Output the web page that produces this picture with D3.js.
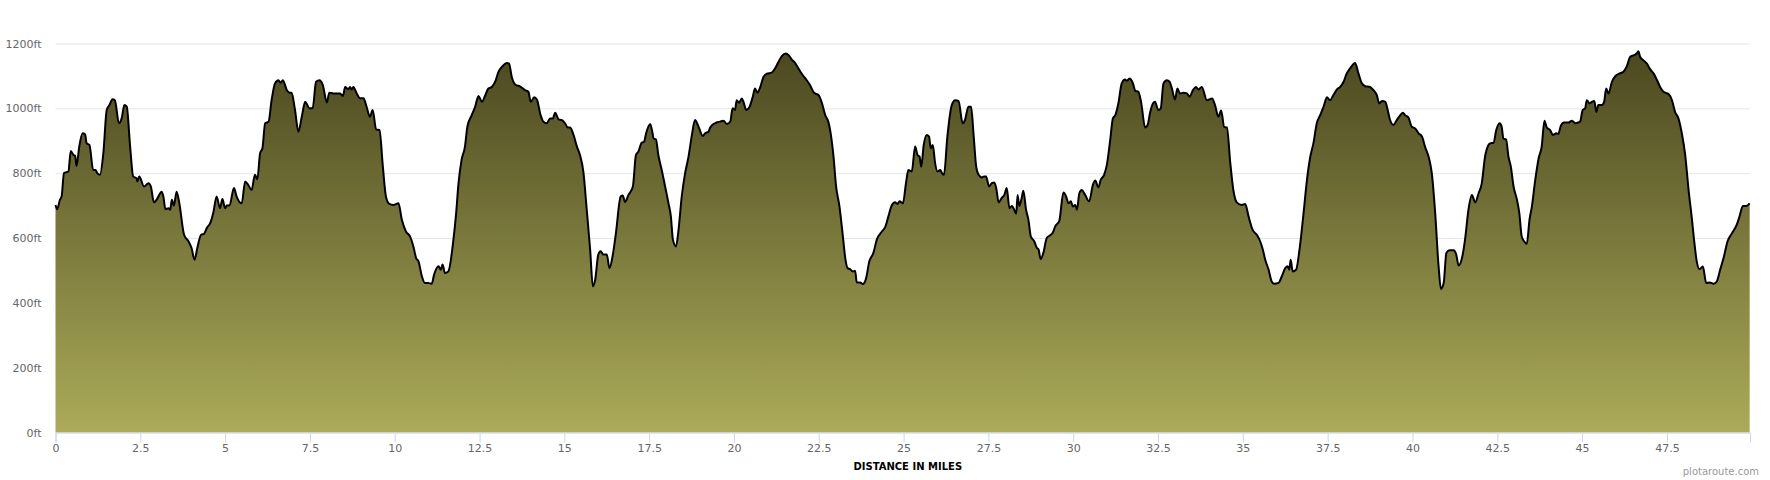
<!DOCTYPE html>
<html>
<head>
<meta charset="utf-8">
<script src="https://cdn.jsdelivr.net/npm/d3@7"></script>
<style>
  body { margin: 0; background: #fff; }
  svg { display: block; font-family: "DejaVu Sans", Verdana, sans-serif; }
</style>
</head>
<body>
<svg width="1770" height="480"></svg>
<script>
// elevation profile (miles / feet)
const distanceMiles = [
  0.0,0.05,0.13,0.18,0.25,0.38,0.45,0.53,0.58,0.62,0.70,0.80,0.87,0.92,1.00,1.11,1.18,1.23,1.31,1.41,1.51,1.59,1.68,1.75,1.87,1.95,2.03,2.10,2.20,2.29,2.39,2.41,2.47,2.61,2.74,2.81,2.90,2.98,3.13,3.18,3.24,3.33,3.38,3.43,3.49,3.57,3.65,3.79,3.92,4.01,4.10,4.18,4.29,4.38,4.46,4.57,4.65,4.75,4.85,4.92,5.00,5.05,5.13,5.26,5.34,5.49,5.59,5.68,5.78,5.88,5.95,6.03,6.10,6.18,6.28,6.37,6.47,6.57,6.64,6.70,6.82,6.91,6.96,7.06,7.16,7.26,7.36,7.40,7.48,7.58,7.68,7.78,7.88,8.00,8.07,
  8.19,8.39,8.47,8.54,8.63,8.68,8.73,8.78,8.88,8.98,9.08,9.17,9.27,9.35,9.45,9.55,9.65,9.74,9.84,9.96,10.11,10.21,10.33,10.45,10.55,10.63,10.70,10.80,10.89,10.99,11.09,11.16,11.29,11.36,11.41,11.48,11.58,11.73,11.81,11.88,11.97,12.07,12.14,12.27,12.37,12.47,12.57,12.66,12.76,12.86,12.96,13.06,13.18,13.30,13.37,13.45,13.57,13.69,13.84,13.94,14.01,14.11,14.19,14.30,14.38,14.48,14.58,14.66,14.73,14.83,14.92,15.02,15.10,15.17,15.27,15.37,15.46,15.56,15.66,15.76,15.84,15.91,16.00,16.07,16.15,16.25,16.33,16.43,16.52,16.66,
  16.72,16.79,16.89,17.02,17.11,17.18,17.28,17.35,17.41,17.53,17.60,17.63,17.70,17.77,17.87,17.97,18.07,18.14,18.20,18.29,18.36,18.46,18.56,18.66,18.76,18.85,18.95,19.08,19.15,19.25,19.30,19.44,19.59,19.69,19.79,19.89,19.96,20.03,20.08,20.15,20.23,20.28,20.36,20.46,20.55,20.62,20.69,20.77,20.87,20.97,21.11,21.21,21.31,21.41,21.53,21.61,21.70,21.80,21.90,22.03,22.13,22.24,22.36,22.49,22.59,22.69,22.78,22.85,22.93,23.01,23.11,23.21,23.28,23.35,23.42,23.50,23.57,23.62,23.72,23.80,23.89,23.99,24.11,24.21,24.36,24.46,24.55,24.65,24.75,24.82,24.88,24.98,25.07,25.14,
  25.24,25.34,25.41,25.47,25.52,25.59,25.68,25.75,25.80,25.86,25.93,26.00,26.08,26.13,26.19,26.29,26.42,26.52,26.62,26.74,26.81,26.91,26.99,27.06,27.14,27.21,27.31,27.37,27.43,27.52,27.60,27.67,27.73,27.80,27.89,27.97,28.04,28.12,28.19,28.24,28.32,28.36,28.41,28.48,28.53,28.61,28.68,28.75,28.85,28.93,28.98,29.04,29.12,29.22,29.30,29.40,29.47,29.59,29.71,29.79,29.86,29.93,29.99,30.06,30.11,30.18,30.25,30.35,30.47,30.58,30.65,30.74,30.81,30.91,30.99,31.09,31.17,31.24,31.33,31.43,31.53,31.58,31.66,31.76,31.83,31.92,32.00,32.12,32.19,32.27,32.35,32.41,32.51,32.58,32.66,32.76,32.84,32.91,33.00,33.07,33.15,33.25,33.35,33.43,33.53,33.62,33.69,33.79,
  33.94,34.09,34.18,34.28,34.36,34.45,34.53,34.63,34.72,34.82,34.97,35.07,35.17,35.29,35.41,35.51,35.59,35.66,35.76,35.85,35.92,36.05,36.15,36.25,36.32,36.37,36.41,36.47,36.57,36.67,36.79,36.89,36.98,37.08,37.18,37.28,37.38,37.48,37.57,37.67,37.77,37.87,37.97,38.06,38.16,38.31,38.41,38.51,38.61,38.75,38.85,38.95,39.02,39.10,39.20,39.27,39.34,39.44,39.54,39.62,39.72,39.78,39.88,39.98,40.08,40.18,40.28,40.37,40.50,40.57,40.67,40.77,40.84,40.92,41.00,41.09,41.21,41.29,41.36,41.46,41.55,41.65,41.75,41.85,41.95,42.04,42.14,42.24,
  42.29,42.39,42.47,42.57,42.63,42.68,42.76,42.83,42.90,42.98,43.08,43.15,43.22,43.29,43.37,43.45,43.52,43.62,43.72,43.81,43.89,43.96,44.06,44.14,44.24,44.30,44.37,44.47,44.60,44.70,44.80,44.94,45.02,45.09,45.14,45.22,45.29,45.36,45.42,45.48,45.58,45.65,45.71,45.78,45.88,45.98,46.10,46.22,46.32,46.42,46.53,46.61,46.66,46.71,46.81,46.91,47.01,47.11,47.20,47.30,47.40,47.55,47.65,47.74,47.84,47.94,48.04,48.14,48.24,48.30,48.38,48.46,48.56,48.66,48.76,48.88,48.97,49.07,49.17,49.29,49.42,49.56,49.64,49.74,49.84,49.94
];
const elevationFt = [
  702,689,718,728,800,805,868,856,853,822,882,923,920,892,887,810,810,800,795,861,995,1010,1028,1025,954,969,1010,1005,882,790,784,774,790,759,769,759,710,718,743,728,689,692,687,718,700,743,707,610,590,569,533,569,610,613,631,648,677,728,692,720,692,700,701,754,728,707,774,764,748,795,781,861,877,954,959,1025,1077,1087,1079,1087,1056,1048,1048,995,928,974,1020,1015,1000,1000,1082,1087,1072,1018,1048,
  1046,1046,1038,1066,1059,1066,1058,1066,1046,1031,1031,1005,974,995,935,933,820,728,705,702,707,656,620,605,574,538,528,482,461,461,459,487,513,502,518,492,497,595,677,769,841,882,943,979,1005,1038,1020,1038,1061,1066,1082,1113,1130,1140,1138,1097,1072,1068,1056,1051,1020,1034,1027,979,959,954,969,969,986,966,964,954,941,941,918,882,856,805,687,564,451,472,549,559,549,549,507,549,615,728,
  731,711,733,759,856,866,894,897,923,952,923,907,904,856,810,759,707,666,595,574,620,728,800,851,918,964,945,915,923,928,941,954,959,962,952,959,1000,995,1025,1017,1030,1020,995,1005,1034,1061,1048,1064,1097,1107,1110,1123,1143,1161,1169,1164,1151,1140,1123,1102,1089,1072,1048,1041,1017,979,959,923,856,759,697,605,538,507,504,497,499,463,463,458,474,528,554,595,620,634,666,700,710,705,713,707,769,810,
  805,882,856,851,820,884,918,913,877,887,830,805,810,800,795,913,1010,1025,1023,954,964,1005,1005,923,820,795,787,790,790,759,769,771,754,710,723,733,754,692,699,692,675,733,699,723,746,687,656,605,590,569,564,535,554,600,607,617,636,653,740,728,707,713,697,702,687,738,748,733,713,764,777,756,779,795,825,902,969,979,1015,1077,1089,1085,1092,1077,1054,1051,1020,941,948,989,1015,1020,995,1000,1077,1087,1082,1061,1027,1061,1046,1048,1046,1036,1056,1066,1058,1066,
  1025,1030,1010,974,993,943,941,831,748,710,702,705,666,625,610,590,564,533,502,466,459,461,482,507,513,502,533,497,502,564,677,779,846,892,954,979,1005,1034,1025,1041,1058,1066,1082,1107,1123,1140,1107,1077,1068,1066,1056,1041,1015,1023,1020,995,964,949,964,976,986,979,972,943,938,923,913,882,841,800,677,513,443,461,554,562,562,549,515,538,595,687,733,710,738,767,851,887,
  892,894,933,954,943,907,904,851,820,759,718,677,605,590,582,656,697,779,846,882,962,941,933,918,923,921,945,956,956,962,954,959,995,1000,1025,1015,1020,1023,989,1010,1010,1020,1061,1046,1082,1099,1107,1113,1130,1159,1164,1169,1176,1159,1148,1138,1120,1107,1089,1066,1051,1044,1025,989,969,923,856,748,656,595,528,504,512,461,463,459,466,502,538,590,615,641,666,699,699,707
];
const xTicks = [0, 2.5, 5, 7.5, 10, 12.5, 15, 17.5, 20, 22.5, 25, 27.5, 30, 32.5, 35, 37.5, 40, 42.5, 45, 47.5];
const yTicks = [0, 200, 400, 600, 800, 1000, 1200];

const points = distanceMiles.map((d, i) => ({ mi: d, ft: elevationFt[i] }));

const svg = d3.select('svg');
const plotLeft = 55.5, plotRight = 1750, plotTop = 43.5, plotBottom = 432.5;
const fontFam = '"DejaVu Sans", Verdana, sans-serif';

const x = d3.scaleLinear().domain([0, 49.95]).range([plotLeft, plotRight]);
const y = d3.scaleLinear().domain([0, 1200]).range([plotBottom, plotTop]);

// gradient fill
const grad = svg.append('defs').append('linearGradient')
  .attr('id', 'fillGrad')
  .attr('x1', 0).attr('y1', 0).attr('x2', 0).attr('y2', 1);
grad.append('stop').attr('offset', '0%').attr('stop-color', '#4b4820');
grad.append('stop').attr('offset', '100%').attr('stop-color', '#abab59');

// gridlines + y labels
const yAxis = svg.append('g')
  .attr('transform', `translate(${plotLeft},0)`)
  .call(d3.axisLeft(y).tickValues(yTicks).tickSize(-(plotRight - plotLeft)).tickPadding(14)
    .tickFormat(d => d + 'ft'))
  .attr('font-family', fontFam)
  .attr('font-size', 11);
yAxis.select('.domain').remove();
yAxis.selectAll('line').attr('stroke', '#e6e6e6');
yAxis.selectAll('text').attr('fill', '#666');

// area + line
const area = d3.area()
  .x(d => x(d.mi)).y0(y(0)).y1(d => y(d.ft))
  .curve(d3.curveMonotoneX);
const line = d3.line()
  .x(d => x(d.mi)).y(d => y(d.ft))
  .curve(d3.curveMonotoneX);

svg.append('path').datum(points)
  .attr('d', area)
  .attr('fill', 'url(#fillGrad)');
svg.append('path').datum(points)
  .attr('d', line)
  .attr('fill', 'none')
  .attr('stroke', '#000')
  .attr('stroke-width', 2)
  .attr('stroke-linejoin', 'round');

// x axis
const xAxis = svg.append('g')
  .attr('transform', `translate(0,${plotBottom})`)
  .call(d3.axisBottom(x).tickValues(xTicks).tickSize(10).tickPadding(2)
    .tickFormat(d => d))
  .attr('font-family', fontFam)
  .attr('font-size', 11);
xAxis.select('.domain').attr('stroke', '#ccd6eb');
xAxis.selectAll('line').attr('stroke', '#ccd6eb');
xAxis.selectAll('text').attr('fill', '#666');

svg.append('text')
  .attr('x', (plotLeft + plotRight) / 2 + 5)
  .attr('y', 470)
  .attr('text-anchor', 'middle')
  .style('font-size', '10px')
  .style('font-weight', 'bold')
  .attr('fill', '#000')
  .text('DISTANCE IN MILES');

svg.append('text')
  .attr('x', 1759)
  .attr('y', 475)
  .attr('text-anchor', 'end')
  .style('font-size', '10px')
  .attr('fill', '#999')
  .text('plotaroute.com');
</script>
</body>
</html>
